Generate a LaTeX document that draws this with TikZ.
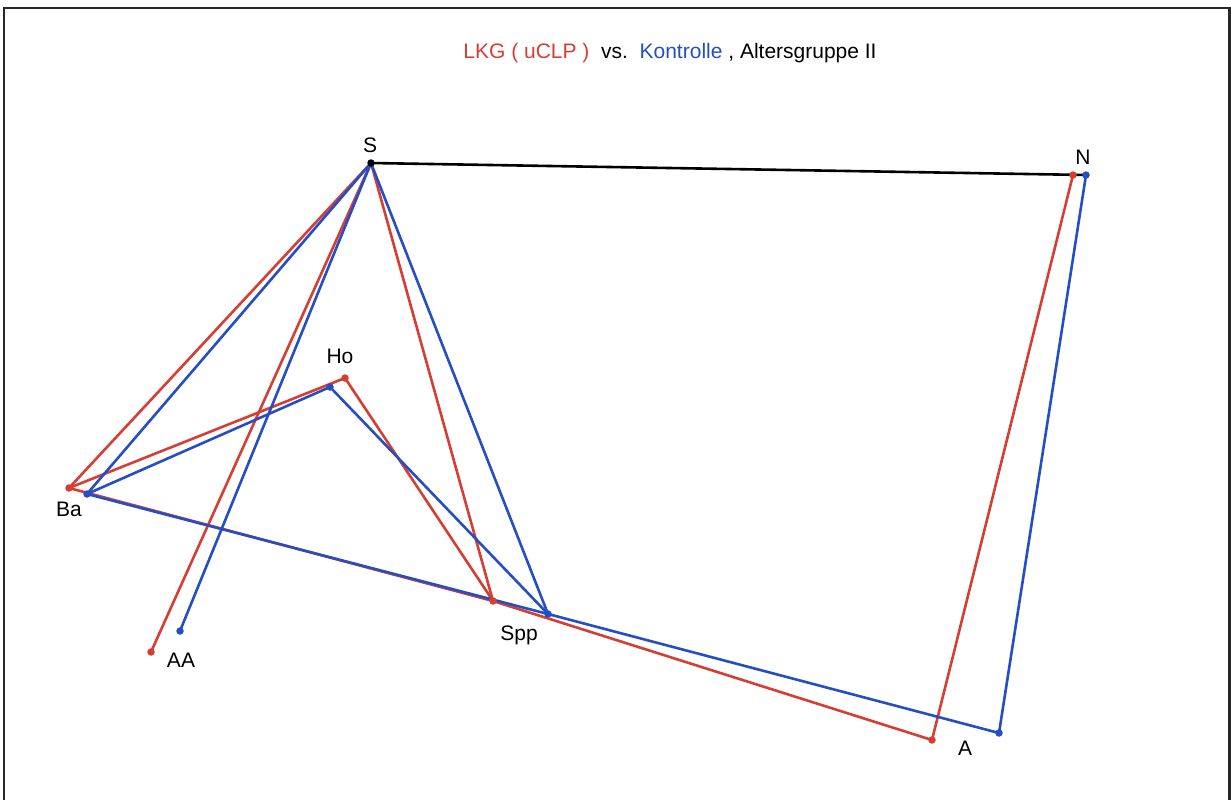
\documentclass[tikz,border=0pt]{standalone}
\usepackage{fontspec}
\setmainfont{Liberation Sans}
\definecolor{lkgred}{RGB}{214,62,52}
\definecolor{kblue}{RGB}{38,78,196}
\definecolor{frame}{RGB}{40,40,40}
\begin{document}
\begin{tikzpicture}[x=1pt,y=-1pt,
  redline/.style={draw=lkgred,line width=2.6pt,line cap=round},
  blueline/.style={draw=kblue,line width=2.6pt,line cap=round},
  blackline/.style={draw=black,line width=2.6pt},
  rdot/.style={circle,fill=lkgred,inner sep=0pt,minimum size=7.5pt},
  bdot/.style={circle,fill=kblue,inner sep=0pt,minimum size=7.5pt},
  kdot/.style={circle,fill=black,inner sep=0pt,minimum size=7.5pt},
  lbl/.style={font=\fontsize{21}{24}\selectfont,text=black,inner sep=0pt}]
\useasboundingbox (0,0) rectangle (1231,800);
\draw[frame,line width=2.4pt] (4,801) -- (4,8) -- (1229.5,8) -- (1229.5,801);
% title
\node[font=\fontsize{21}{24}\selectfont,inner sep=0pt] (title) at (670,53)
  {\textcolor{lkgred}{LKG ( uCLP )}\ \ vs.\ \ \textcolor{kblue}{Kontrolle} , Altersgruppe II};
% points
\coordinate (S) at (371,163);
\coordinate (Nr) at (1073,175);
\coordinate (Nb) at (1086,175);
\coordinate (Hor) at (345,378);
\coordinate (Hob) at (330,387);
\coordinate (Bar) at (69,488);
\coordinate (Bab) at (87,494);
\coordinate (AAr) at (151,652);
\coordinate (AAb) at (180,631);
\coordinate (Sppr) at (493,601);
\coordinate (Sppb) at (548,614);
\coordinate (Ar) at (932,740);
\coordinate (Ab) at (999,733);
% red
\draw[redline] (S) -- (Bar);
\draw[redline] (S) -- (AAr);
\draw[redline] (S) -- (Sppr);
\draw[redline] (Bar) -- (Hor) -- (Sppr);
\draw[redline] (Bar) -- (Sppr) -- (Ar);
\draw[redline] (Nr) -- (Ar);
% blue
\draw[blueline] (S) -- (Bab);
\draw[blueline] (S) -- (AAb);
\draw[blueline] (S) -- (Sppb);
\draw[blueline] (Bab) -- (Hob) -- (Sppb);
\draw[blueline] (Bab) -- (Sppb) -- (Ab);
\draw[blueline] (Nb) -- (Ab);
% black
\draw[blackline] (S) -- (Nb);
% dots
\foreach \p in {Nr,Hor,Bar,AAr,Sppr,Ar} \node[rdot] at (\p) {};
\foreach \p in {Nb,Hob,Bab,AAb,Sppb,Ab} \node[bdot] at (\p) {};
\node[kdot] at (S) {};
% labels
\node[lbl] (lS) at (370,145) {S};
\node[lbl] (lN) at (1083,157) {N};
\node[lbl] (lHo) at (340,356) {Ho};
\node[lbl] (lBa) at (69,509) {Ba};
\node[lbl] (lAA) at (181,660) {AA};
\node[lbl] (lSpp) at (519,635) {Spp};
\node[lbl] (lA) at (965,748) {A};
\end{tikzpicture}
\end{document}
